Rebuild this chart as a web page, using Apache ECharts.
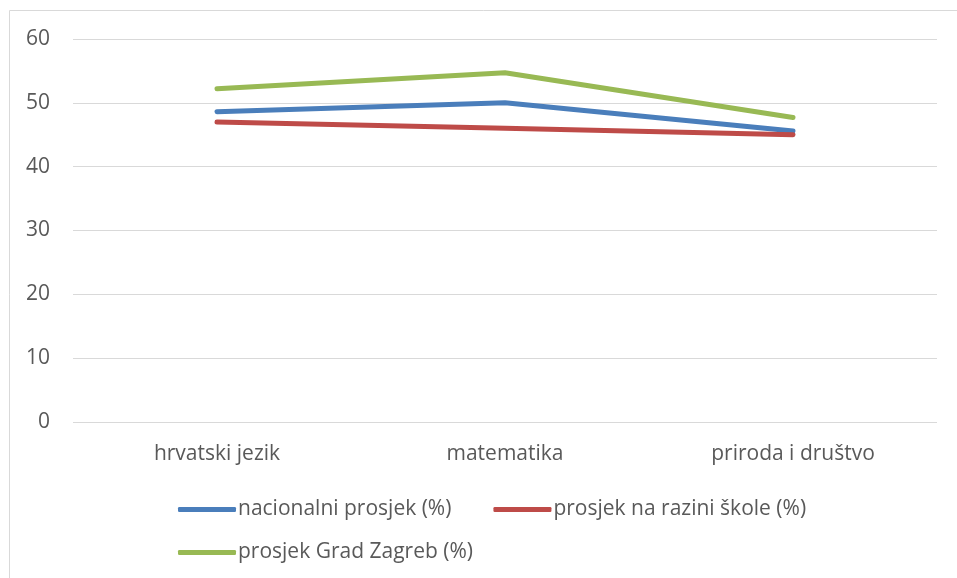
<!DOCTYPE html>
<html><head><meta charset="utf-8">
<script src="https://cdn.jsdelivr.net/npm/echarts@6/dist/echarts.min.js"></script>
<style>html,body{margin:0;padding:0;background:#fff}#c{width:957px;height:578px}</style>
</head><body><div id="c"></div>
<script>
const categories = ['hrvatski jezik', 'matematika', 'priroda i društvo'];
const nacionalni = [48.6, 50.0, 45.6];
const skola = [47.0, 46.0, 45.0];
const zagreb = [52.2, 54.7, 47.7];
const seriesNames = ['nacionalni prosjek (%)', 'prosjek na razini škole (%)', 'prosjek Grad Zagreb (%)'];
const yTicks = { min: 0, max: 60, interval: 10 };

const font = '"Open Sans", "Noto Sans", sans-serif';
const txt = '#595959';
const fs = 21;
const chart = echarts.init(document.getElementById('c'), null, { renderer: 'canvas' });
function line(name, data, color) {
  return { name, type: 'line', data, symbol: 'none', smooth: false,
    lineStyle: { width: 5, color, cap: 'round', join: 'round' }, itemStyle: { color } };
}
chart.setOption({
  animation: false,
  graphic: [{ type: 'rect', shape: { x: 9.5, y: 10.5, width: 960, height: 600 },
    style: { fill: 'none', stroke: '#d9d9d9', lineWidth: 1 }, silent: true }],
  grid: { left: 73, right: 20, top: 39, bottom: 156, containLabel: false },
  xAxis: { type: 'category', data: categories, boundaryGap: true,
    axisLine: { show: false }, axisTick: { show: false },
    axisLabel: { color: txt, fontFamily: font, fontSize: fs, margin: 22 } },
  yAxis: { type: 'value', min: yTicks.min, max: yTicks.max, interval: yTicks.interval,
    axisLine: { show: false }, axisTick: { show: false },
    axisLabel: { color: txt, fontFamily: font, fontSize: fs, margin: 23 },
    splitLine: { lineStyle: { color: '#d9d9d9', width: 1 } } },
  legend: [
    { data: [seriesNames[0], seriesNames[1]], left: 178, top: 499, padding: 0, itemWidth: 58, itemHeight: 5,
      icon: 'roundRect', itemGap: 42, textStyle: { color: txt, fontFamily: font, fontSize: fs, padding: [0,0,0,-3] } },
    { data: [seriesNames[2]], left: 178, top: 542, padding: 0, itemWidth: 58, itemHeight: 5,
      icon: 'roundRect', textStyle: { color: txt, fontFamily: font, fontSize: fs, padding: [0,0,0,-3] } }
  ],
  series: [
    line(seriesNames[0], nacionalni, '#4a7ebb'),
    line(seriesNames[1], skola, '#be4b48'),
    line(seriesNames[2], zagreb, '#98b954')
  ]
});
</script></body></html>
